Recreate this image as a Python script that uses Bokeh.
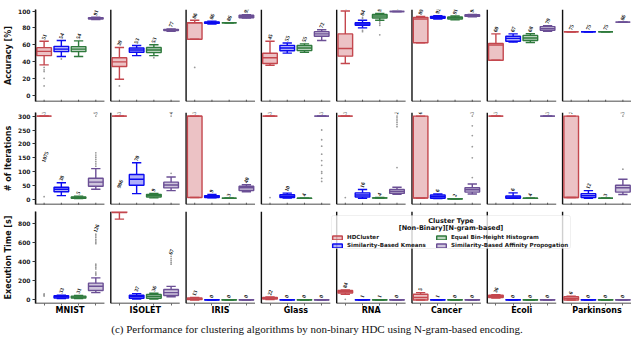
import numpy as np
from bokeh.plotting import figure
from bokeh.models import (ColumnDataSource, FactorRange, Range1d, FixedTicker, LabelSet, Label,
                          Legend, LegendItem, Div, BoxAnnotation)
from bokeh.layouts import column
from bokeh.embed import file_html
from bokeh.resources import INLINE

# ---------------- data ----------------
datasets = ["MNIST", "ISOLET", "IRIS", "Glass", "RNA", "Cancer", "Ecoli", "Parkinsons"]
algorithms = ["HDCluster", "Similarity-Based Kmeans", "Equal Bin-Height Histogram",
              "Similarity-Based Affinity Propogation"]
alg_keys = ["HDC", "KM", "EBH", "AP"]
alg_colors = ["#c4474e", "#0b0bef", "#2f7a3d", "#6b4f95"]

# box stats per dataset / algorithm: (low whisker, q1, median, q3, high whisker)
acc_box = [
    [(36, 47, 52, 56.5, 64), (46, 51.7, 54.7, 58, 65), (46, 51.7, 54.7, 57.7, 64.5), (89.8, 90.6, 91.4, 92.0, 92.6)],
    [(19, 34, 39.6, 44.5, 56.6), (47, 51, 53.6, 56, 59), (47, 50.6, 53.6, 56.6, 60), (76, 76.8, 77.4, 78.2, 78.8)],
    [(66.4, 66.4, 86, 86, 89), (84.5, 85.3, 86.3, 87, 88), (86, 86, 86, 86, 86), (91.5, 92, 93.6, 95, 95.5)],
    [(35.5, 37.7, 44.5, 49.8, 64), (50, 52.8, 56, 59.2, 62), (51, 53, 56, 59, 61), (65, 70, 72.8, 75.5, 77.7)],
    [(37.7, 46.4, 55.5, 72.8, 100), (80, 83, 84.5, 86, 89), (89, 91.7, 94, 96, 97), (99.5, 99.5, 99.5, 99.5, 99.5)],
    [(62.3, 62.3, 90.5, 92.5, 93.6), (90.5, 91.3, 92.5, 93.6, 94.5), (89.5, 90.5, 92, 93, 94), (93, 93.6, 94.3, 95.5, 96)],
    [(41.5, 41.5, 59.6, 61.5, 72.8), (63, 64, 67.5, 70, 72.8), (62.6, 65, 68, 71, 73), (75.8, 77, 79, 81.5, 82.6)],
    [(75.3, 75.3, 75.3, 75.3, 75.3), (75.3, 75.3, 75.3, 75.3, 75.3), (75.3, 75.3, 75.3, 75.3, 75.3), (86.8, 86.8, 86.8, 86.8, 86.8)],
]
acc_labels = [["51", "54", "54", "91"], ["39", "53", "53", "77"], ["86", "86", "86", "93"],
              ["45", "55", "55", "72"], ["55", "84", "93", "99"], ["89", "92", "91", "94"],
              ["60", "67", "68", "79"], ["75", "75", "75", "86"]]
acc_outliers = {("MNIST", "HDC"): [33, 30, 28, 20, 11], ("MNIST", "KM"): [43],
                ("ISOLET", "HDC"): [11], ("ISOLET", "EBH"): [44.5], ("IRIS", "HDC"): [33],
                ("RNA", "KM"): [91, 92.5, 77, 75.5], ("RNA", "EBH"): [87, 85, 83, 71.7]}

iter_box = [
    [(300, 300, 300, 300, 300), (14, 27.8, 37, 44, 60), (3, 4.6, 7, 9, 12), (37, 47.5, 62.6, 76.5, 111)],
    [(300, 300, 300, 300, 300), (21, 51, 73, 90, 132), (6, 9, 14, 18.5, 22), (32, 41.7, 52, 62.5, 81)],
    [(7, 7, 300, 300, 300), (6, 7, 10.5, 14, 18.5), (4.6, 4.6, 4.6, 4.6, 4.6), (28, 32.4, 42, 47.5, 53)],
    [(300, 300, 300, 300, 300), (5, 7, 11.6, 17, 23), (4, 4, 4.6, 4.6, 5), (300, 300, 300, 300, 300)],
    [(300, 300, 300, 300, 300), (4.6, 9, 16, 24, 36), (5, 5, 6, 6, 7), (18.5, 22, 29, 36, 44)],
    [(5, 5, 6, 300, 300), (3, 4.6, 10, 16, 20), (2, 2, 2.5, 3, 3), (20, 26.6, 35, 42, 56)],
    [(300, 300, 300, 300, 300), (4.6, 4.6, 9, 13, 24), (4, 4, 4.6, 4.6, 5), (300, 300, 300, 300, 300)],
    [(7, 7, 7, 300, 300), (4, 7, 14, 21, 32), (4.6, 4.6, 4.6, 4.6, 4.6), (18, 26.6, 42, 51, 73)],
]
iter_labels = [["300", "38", "5", "57"], ["300", "70", "9", "49"], ["300", "9", "3", "40"],
               ["300", "10", "4", "300"], ["300", "16", "4", "28"], ["6", "6", "2", "32"],
               ["300", "6", "4", "300"], ["7", "12", "3", "36"]]
iter_outliers = {("MNIST", "HDC"): [10],
                 ("MNIST", "AP"): [120, 128, 136, 144, 152, 160, 168, 300],
                 ("ISOLET", "AP"): [94, 300],
                 ("Glass", "HDC"): [7],
                 ("Glass", "AP"): [250, 215, 192, 163, 140, 123, 100, 94, 76, 65],
                 ("RNA", "HDC"): [7],
                 ("RNA", "AP"): [115, 262, 270, 278, 286, 294, 300],
                 ("Cancer", "AP"): [79, 150, 190, 230, 265, 300],
                 ("Parkinsons", "AP"): [109, 300]}

exec_box = [
    [(1000, 1040, 1075, 1110, 1150), (15, 20, 33, 43, 50), (15, 20, 31, 40, 48), (76, 99, 142, 175, 230)],
    [(842, 909, 935, 980, 1050), (10, 16.5, 33, 49, 66), (10, 16.5, 36, 56, 70), (33, 46, 76, 109, 141)],
    [(0, 3, 10, 20, 25), (0, 0, 1, 2, 3), (0, 0, 1, 2, 3), (0, 0, 1, 2, 3)],
    [(5, 10, 18, 25, 30), (0, 0, 1, 2, 3), (0, 0, 1, 2, 3), (0, 0, 1, 2, 3)],
    [(60, 72, 86, 99, 105), (0, 0, 1, 2, 3), (0, 0, 1, 2, 3), (0, 0, 1, 2, 3)],
    [(0, 0, 26, 59, 76), (0, 0, 1, 2, 3), (0, 0, 1, 2, 3), (0, 0, 1, 2, 3)],
    [(20, 26, 36, 49, 55), (0, 0, 1, 2, 3), (0, 0, 1, 2, 3), (0, 0, 1, 2, 3)],
    [(0, 0, 16, 33, 40), (0, 0, 1, 2, 3), (0, 0, 1, 2, 3), (0, 0, 1, 2, 3)],
]
exec_labels = [["1075", "33", "31", "126"], ["906", "37", "36", "67"], ["13", "0", "0", "0"],
               ["22", "0", "0", "0"], ["84", "1", "1", "0"], ["5", "1", "0", "0"],
               ["36", "0", "0", "0"], ["6", "0", "0", "0"]]
exec_outliers = {("MNIST", "HDC"): [40, 48, 56, 64],
                 ("MNIST", "AP"): [260, 273, 290, 323, 340, 356, 372, 586, 600, 615, 630, 652, 668, 685],
                 ("ISOLET", "AP"): [372, 390, 410, 430, 454],
                 ("RNA", "HDC"): [7]}
# clipped execution-time labels that show up inside the iterations panel (y in iterations units)
exec_overflow_y = {"MNIST": 135, "ISOLET": 42}

acc_ticks = [0, 20, 40, 60, 80, 100]
iter_ticks = [0, 50, 100, 150, 200, 250, 300]
exec_ticks = [0, 200, 400, 600, 800]

legend_title = ["Cluster Type", "[Non-Binary][N-gram-based]"]
caption = "(c) Performance for clustering algorithms by non-binary HDC using N-gram-based encoding."

FONT = "DejaVu Sans"
LW = 1.4
FW, FH = 596, 92
factors = [(d, k) for d in datasets for k in alg_keys]
NAN = float("nan")


def build_row(box, labels, outliers, y0, y1, ticks, ylabel, btop, bottom_row):
    p = figure(frame_width=FW, frame_height=FH,
               x_range=FactorRange(*factors, factor_padding=0, group_padding=0.37, range_padding=0),
               y_range=Range1d(y0, y1), output_backend="svg", toolbar_location=None,
               min_border_left=0, min_border_right=0, min_border_top=btop,
               min_border_bottom=0 if bottom_row else 2)
    p.xgrid.visible = False
    p.ygrid.visible = False
    p.outline_line_color = None

    inside = lambda v: v if y0 <= v <= y1 else NAN

    if not bottom_row:
        # small x tick marks below each panel's baseline
        p.scatter(x=factors, y=[y0] * len(factors), marker="dash", angle=90, angle_units="deg",
                  size=3.6, line_color="#444444", line_width=0.8)

    sp = ColumnDataSource(dict(xl=[(d, alg_keys[0], -0.5) for d in datasets],
                               xr=[(d, alg_keys[-1], 0.5) for d in datasets],
                               ya=np.full(len(datasets), float(y0)), yb=np.full(len(datasets), float(y1))))
    p.segment(x0="xl", x1="xl", y0="ya", y1="yb", source=sp, line_color="#111111", line_width=LW)
    p.segment(x0="xl", x1="xr", y0="ya", y1="ya", source=sp, line_color="#111111", line_width=LW)

    vbars = []
    lx, ly, lt = [], [], []
    for a, key in enumerate(alg_keys):
        col = alg_colors[a]
        st = [box[i][a] for i in range(len(datasets))]
        lo = [s[0] for s in st]
        q1 = [s[1] for s in st]
        med = [s[2] for s in st]
        q3 = [s[3] for s in st]
        hi = [s[4] for s in st]
        src = ColumnDataSource(dict(
            x=[(d, key) for d in datasets],
            xl=[(d, key, -0.425) for d in datasets], xr=[(d, key, 0.425) for d in datasets],
            cl=[(d, key, -0.27) for d in datasets], cr=[(d, key, 0.27) for d in datasets],
            lo=np.array([inside(v) for v in lo]),
            wl_top=np.array([min(b, y1) if v <= y1 else NAN for v, b in zip(lo, q1)]),
            q1=np.array([v if v <= y1 else NAN for v in q1]),
            q3=np.array([min(v, y1) if b <= y1 else NAN for v, b in zip(q3, q1)]),
            med=np.array([inside(v) for v in med]),
            wu_bot=np.array([v if v <= y1 else NAN for v in q3]),
            wu_top=np.array([min(v, y1) if b <= y1 else NAN for v, b in zip(hi, q3)]),
            hi=np.array([inside(v) for v in hi])))
        p.segment(x0="x", x1="x", y0="lo", y1="wl_top", source=src, line_color=col, line_width=LW)
        p.segment(x0="x", x1="x", y0="wu_bot", y1="wu_top", source=src, line_color=col, line_width=LW)
        p.segment(x0="cl", x1="cr", y0="lo", y1="lo", source=src, line_color=col, line_width=LW)
        p.segment(x0="cl", x1="cr", y0="hi", y1="hi", source=src, line_color=col, line_width=LW)
        vb = p.vbar(x="x", width=0.85, bottom="q1", top="q3", source=src, fill_color=col,
                    fill_alpha=0.33, line_color=col, line_width=LW)
        p.segment(x0="xl", x1="xr", y0="med", y1="med", source=src, line_color=col, line_width=LW)
        vbars.append(vb)
        for i, d in enumerate(datasets):
            top = max([hi[i]] + outliers.get((d, key), []))
            if top <= y1:
                lx.append((d, key))
                ly.append(top)
                lt.append(labels[i][a])

    ox, oy = [], []
    for (d, key), vals in outliers.items():
        for v in vals:
            ox.append((d, key))
            oy.append(v)
    p.scatter(x=ox, y=oy, size=1.8, color="#9a9a9a", line_width=0)

    lsrc = ColumnDataSource(dict(x=lx, y=ly, t=lt))
    p.add_layout(LabelSet(x="x", y="y", text="t", source=lsrc, angle=70, angle_units="deg",
                          text_font=FONT, text_font_style="bold", text_font_size="5.5px",
                          text_color="#111111",
                          text_align="left", text_baseline="middle", x_offset=-1, y_offset=2))

    ya = p.yaxis[0]
    ya.ticker = FixedTicker(ticks=ticks)
    ya.axis_label = ylabel
    ya.axis_label_text_font = FONT
    ya.axis_label_text_font_style = "bold"
    ya.axis_label_text_font_size = "8px"
    ya.axis_label_text_color = "#111111"
    ya.axis_label_standoff = 2
    ya.major_label_text_font = FONT
    ya.major_label_text_font_style = "bold"
    ya.major_label_text_font_size = "6px"
    ya.major_label_text_color = "#222222"
    ya.major_label_standoff = 2
    ya.major_tick_out = 3
    ya.major_tick_in = 0
    ya.minor_tick_out = 0
    ya.minor_tick_in = 0
    ya.axis_line_color = "#111111"
    ya.axis_line_width = LW
    ya.major_tick_line_color = "#333333"

    xa = p.xaxis[0]
    if not bottom_row:
        xa.visible = False
    else:
        xa.axis_line_color = None
        xa.major_tick_out = 2
        xa.major_tick_in = 0
        xa.major_tick_line_color = "#444444"
        xa.major_tick_line_width = 0.8
        xa.major_label_text_font_size = "0px"
        xa.major_label_text_alpha = 0
        xa.major_label_standoff = 0
        xa.separator_line_alpha = 0
        xa.group_text_font = FONT
        xa.group_text_font_style = "bold"
        xa.group_text_color = "black"
        xa.group_text_font_size = "8px"
    return p, vbars


p1, _ = build_row(acc_box, acc_labels, acc_outliers, -7.5, 101.8, acc_ticks, "Accuracy [%]", 9, False)
p2, _ = build_row(iter_box, iter_labels, iter_outliers, -18, 313, iter_ticks, "# of Iterations", 9, False)
p3, vb3 = build_row(exec_box, exec_labels, exec_outliers, -37, 921, exec_ticks, "Execution Time [s]", 5, True)

# execution-time labels that overflow into the iterations panel
ovx, ovy, ovt = [], [], []
for i, d in enumerate(datasets):
    if d in exec_overflow_y:
        ovx.append((d, alg_keys[0]))
        ovy.append(exec_overflow_y[d])
        ovt.append(exec_labels[i][0])
p2.add_layout(LabelSet(x="x", y="y", text="t", source=ColumnDataSource(dict(x=ovx, y=ovy, t=ovt)),
                       angle=70, angle_units="deg", text_font=FONT, text_font_style="bold",
                       text_color="#111111",
                       text_font_size="5.5px", text_align="left", text_baseline="middle", x_offset=-1))

# legend frame (semi-transparent box), title lines, then the entries
LEG_X, LEG_Y, LEG_W, LEG_H = 296, 55, 239, 33
p3.add_layout(BoxAnnotation(left=LEG_X, right=LEG_X + LEG_W, bottom=LEG_Y, top=LEG_Y + LEG_H,
                            left_units="screen", right_units="screen", top_units="screen",
                            bottom_units="screen", fill_color="white", fill_alpha=0.8,
                            line_color="#cccccc", line_width=1, border_radius=2, level="annotation"))
for j, line in enumerate(legend_title):
    p3.add_layout(Label(x=LEG_X + LEG_W / 2, y=LEG_Y + 28 - 7 * j, x_units="screen", y_units="screen",
                        text=line, text_font=FONT, text_font_style="bold", text_font_size="6.5px",
                        text_color="#111111", text_align="center", text_baseline="middle",
                        level="overlay"))
legend = Legend(items=[LegendItem(label=algorithms[i], renderers=[vb3[i]]) for i in range(4)],
                location=(LEG_X, LEG_Y), orientation="vertical", nrows=2,
                label_text_font=FONT, label_text_font_style="bold", label_text_font_size="5.6px",
                label_text_color="#222222",
                glyph_width=12, glyph_height=5, label_height=6, label_width=86, label_standoff=4,
                spacing=2, padding=2, margin=0, border_line_color=None,
                background_fill_alpha=0, level="overlay")
p3.add_layout(legend, "center")

cap = Div(text=caption, width=624, height=16,
          styles={"font-family": "Liberation Serif", "font-size": "11px", "text-align": "center",
                  "line-height": "14px", "color": "#111111", "width": "624px"})

layout = column(p1, p2, p3, cap, spacing=0)
open("out.html", "w").write(file_html(layout, INLINE))
